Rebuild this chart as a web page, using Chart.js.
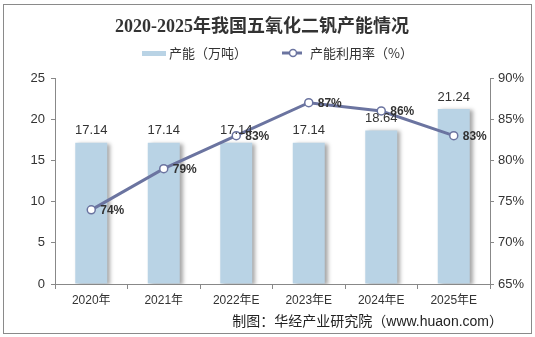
<!DOCTYPE html>
<html><head><meta charset="utf-8">
<script src="https://cdn.jsdelivr.net/npm/chart.js@4"></script>
<style>
html,body{margin:0;padding:0;background:#fff;}
#wrap{position:relative;width:535px;height:337px;}
#frame{position:absolute;left:3px;top:4px;width:527px;height:328px;border:1px solid #8a8a8a;pointer-events:none;}
canvas{position:absolute;left:0;top:0;}
</style></head>
<body>
<div id="wrap"><canvas id="c" width="535" height="337"></canvas><div id="frame"></div></div>
<script>
const categories = ['2020年','2021年','2022年E','2023年E','2024年E','2025年E'];
const capacity = [17.14,17.14,17.14,17.14,18.64,21.24];
const utilization = [74,79,83,87,86,83];
const leftTicks = [0,5,10,15,20,25];
const rightTicks = [65,70,75,80,85,90];
const titleText = '2020-2025年我国五氧化二钒产能情况';
const legendBar = '产能（万吨）';
const legendLine = '产能利用率（%）';
const footerText = '制图：华经产业研究院（www.huaon.com）';

const barColor = '#B9D3E5';
const lineColor = '#6B74A0';
const FONT = '"Liberation Sans", Arial, "Noto Sans CJK SC", sans-serif';

const shadowPlugin = {
  id:'shadow',
  beforeDatasetDraw(chart, args){
    if(args.index===0){
      const ctx=chart.ctx; ctx.save();
      ctx.shadowColor='rgba(0,0,0,0.35)'; ctx.shadowOffsetX=3; ctx.shadowOffsetY=1; ctx.shadowBlur=4;
    }
  },
  afterDatasetDraw(chart,args){ if(args.index===0) chart.ctx.restore(); }
};

const decor = {
  id:'decor',
  afterDraw(chart){
    const ctx=chart.ctx;
    ctx.save();
    ctx.fillStyle='#333';
    ctx.font='bold 18px "Liberation Serif", "Noto Sans CJK SC", serif';
    ctx.textAlign='center'; ctx.textBaseline='middle';
    ctx.fillText(titleText, 262, 27);
    ctx.font='13px "Noto Sans CJK SC", sans-serif';
    ctx.textAlign='left';
    ctx.fillStyle=barColor; ctx.fillRect(142,51,24,5);
    ctx.fillStyle='#333'; ctx.fillText(legendBar,169,53);
    ctx.strokeStyle=lineColor; ctx.lineWidth=3;
    ctx.beginPath(); ctx.moveTo(282,53); ctx.lineTo(302,53); ctx.stroke();
    ctx.fillStyle='#fff'; ctx.lineWidth=1.5;
    ctx.beginPath(); ctx.arc(293,53,3.5,0,Math.PI*2); ctx.fill(); ctx.stroke();
    ctx.fillStyle='#333'; ctx.fillText(legendLine,310,53);
    ctx.font='14px '+FONT;
    ctx.textAlign='right'; ctx.fillStyle='#222';
    ctx.fillText(footerText,503,322);
    const m0=chart.getDatasetMeta(0);
    ctx.font='13px '+FONT; ctx.textAlign='center'; ctx.fillStyle='#333';
    m0.data.forEach((el,i)=>{ ctx.fillText(capacity[i].toFixed(2), el.x, el.y-12); });
    const m1=chart.getDatasetMeta(1);
    ctx.font='bold 12px '+FONT; ctx.textAlign='left'; ctx.fillStyle='#333';
    m1.data.forEach((el,i)=>{ ctx.fillText(utilization[i]+'%', el.x+9, el.y+1); });
    ctx.restore();
  }
};

new Chart(document.getElementById('c'),{
  data:{
    labels:categories,
    datasets:[
      {type:'bar',data:capacity,backgroundColor:barColor,yAxisID:'y',barPercentage:0.9,categoryPercentage:0.49,order:2},
      {type:'line',data:utilization,yAxisID:'y1',borderColor:lineColor,borderWidth:3,pointRadius:4,pointBorderWidth:1.5,
       pointBackgroundColor:'#fff',pointBorderColor:lineColor,tension:0,order:1}
    ]
  },
  options:{
    responsive:false,animation:false,
    layout:{padding:{top:78,bottom:0,left:0,right:0}},
    plugins:{legend:{display:false},title:{display:false},tooltip:{enabled:false}},
    scales:{
      x:{
        grid:{display:true,drawOnChartArea:false,offset:true,tickLength:5,color:'#888'},
        border:{display:true,color:'#888'},
        ticks:{color:'#333',font:{size:12,family:FONT},padding:4,maxRotation:0},
        afterFit(s){s.height=53;}
      },
      y:{
        position:'left',min:0,max:25,
        afterBuildTicks(s){s.ticks=leftTicks.map(v=>({value:v}));},
        grid:{drawOnChartArea:false,tickLength:4,color:'#888'},
        border:{display:true,color:'#888'},
        ticks:{color:'#333',font:{size:13,family:FONT},padding:6},
        afterFit(s){s.width=55;}
      },
      y1:{
        position:'right',min:65,max:90,
        afterBuildTicks(s){s.ticks=rightTicks.map(v=>({value:v}));},
        grid:{drawOnChartArea:false,tickLength:4,color:'#888'},
        border:{display:true,color:'#888'},
        ticks:{color:'#333',font:{size:13,family:FONT},padding:4,callback:v=>v+'%'},
        afterFit(s){s.width=45;}
      }
    }
  },
  plugins:[shadowPlugin,decor]
});
</script>
</body></html>
